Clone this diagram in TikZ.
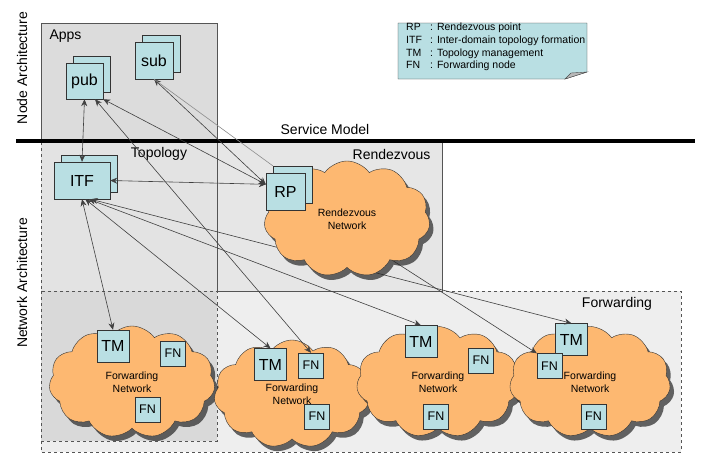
\documentclass[tikz,border=0pt]{standalone}
\usepackage{fontspec}
\setmainfont{Liberation Sans}
\usetikzlibrary{shapes.symbols,shadows,arrows.meta}
\pgfdeclarelayer{front}
\pgfsetlayers{main,front}
\definecolor{boxcyan}{HTML}{B9DFE3}
\definecolor{cloudorange}{HTML}{FDB871}
\definecolor{appsgray}{HTML}{DCDCDC}
\definecolor{topogray}{HTML}{E3E3E3}
\definecolor{rendgray}{HTML}{E6E6E6}
\definecolor{fwdgray}{HTML}{EEEEEE}
\definecolor{innergray}{HTML}{D9D9D9}
\definecolor{edgegray}{HTML}{555555}
\tikzset{
  region/.style={draw=edgegray},
  stack/.style={draw=black!80, fill=boxcyan, inner sep=0pt, font=\fontsize{16}{16}\selectfont,
    copy shadow={shadow xshift=7pt, shadow yshift=7pt, draw=black!80, fill=boxcyan}},
  tmbox/.style={draw=black!80, fill=boxcyan, minimum size=32pt, inner sep=0pt, font=\fontsize{16}{16}\selectfont},
  fnbox/.style={draw=black!80, fill=boxcyan, minimum size=25pt, inner sep=0pt, font=\fontsize{12.5}{12.5}\selectfont},
  netcloud/.style={cloud, cloud puffs=11, cloud puff arc=110, draw=black!80, fill=cloudorange, inner sep=0pt,
    align=center, font=\fontsize{10.5}{12.5}\selectfont,
    drop shadow={shadow xshift=4pt, shadow yshift=-5pt, fill=black!85, opacity=0.7}},
  link/.style={<->, draw=black!75, line width=0.6pt},
  >={Stealth[length=7pt,width=6pt]}
}
\begin{document}
\begin{tikzpicture}[x=1pt, y=-1pt, font=\fontsize{14}{14}\selectfont]
    \useasboundingbox (0,0) rectangle (725,472);

    % Layer boxes
    \draw[region, fill=appsgray] (41,23) rectangle (217,142);
    \fill[topogray] (41,142) rectangle (217,291);
    \draw[region, dashed, fill=fwdgray] (41,291) rectangle (681,452);
    \draw[region, dashed, fill=innergray] (41,291) rectangle (217,441);
    \draw[region, fill=rendgray] (217,142) rectangle (442,291);
    \draw[region, dashed] (41,142) -- (41,291);
    \draw[line width=4pt] (16,141) -- (695,141);

    \node at (325,129) {Service Model};
    \node[anchor=west] at (46,36) {Apps};
    \node at (159,154) {Topology};
    \node[anchor=east] at (434,154) {Rendezvous};
    \node at (617,304) {Forwarding};
    \node[rotate=90] at (22,68) {Node Architecture};
    \node[rotate=90] at (22,283) {Network Architecture};

    % Legend
    \draw[fill=boxcyan, draw=black!80] (398,23) -- (587,23) -- (587,72) -- (565,79) -- (398,79) -- cycle;
    \draw[fill=gray!55, draw=black!70] (565,79) -- (571,73) -- (587,72) -- cycle;
    \node[anchor=north west, inner sep=0pt, align=left, font=\fontsize{10.5}{12.6}\selectfont] (legend) at (406,23)
        {\makebox[24pt][l]{RP}: Rendezvous point\\
         \makebox[24pt][l]{ITF}: Inter-domain topology formation\\
         \makebox[24pt][l]{TM}: Topology management\\
         \makebox[24pt][l]{FN}: Forwarding node};

    % Forwarding networks
    \foreach \i/\x/\y/\w/\h in {1/132/382/166/112, 2/292/394/156/108, 3/438/382/163/111, 4/590/382/161/111}
        \node[netcloud, minimum width=\w pt, minimum height=\h pt] (fcloud\i) at (\x,\y) {Forwarding\\Network};
    \foreach \i/\x/\y in {1/113/346, 2/270.5/364.5, 3/421/341.5, 4/571.5/339.5}
        \node[tmbox] (TM\i) at (\x,\y) {TM};
    \foreach \i/\x/\y in {1a/173/353.5, 1b/147.5/409.5, 2a/311/365.5, 2b/317/416.5, 3a/481/360.5, 3b/436/416.5, 4a/549.5/366, 4b/593.5/416.5}
        \node[fnbox] (FN\i) at (\x,\y) {FN};

    % Apps and topology
    \node[stack, minimum width=37pt, minimum height=36pt] (pub) at (84.5,81) {pub};
    \node[stack, minimum width=38pt, minimum height=37pt] (sub) at (154,60.5) {sub};
    \node[stack, minimum width=56pt, minimum height=37pt] (ITF) at (82,180.5) {ITF};

    % Rendezvous network
    \begin{pgfonlayer}{front}
        \node[netcloud, minimum width=166pt, minimum height=116pt] (rvcloud) at (347,219) {Rendezvous\\Network};
        \node[stack, minimum width=39pt, minimum height=37pt] (RP) at (285.5,191.5) {RP};
    \end{pgfonlayer}

    % Connections
    \draw[link] (pub.south) -- (ITF.north);
    \draw[link] (ITF.east) -- (RP.160);
    \draw[link] (pub.-60) -- (FN2a.north);
    \draw[link] (pub.south east) -- (RP.160);
    \draw[link] (sub.south) -- (RP.160);
    \draw[draw=black!45, line width=0.6pt] (sub.south) -- ([xshift=7pt,yshift=7pt]RP.north west);
    \draw[link] (ITF.south) -- (TM1.north);
    \draw[link] (ITF.-80) -- (TM2.north);
    \draw[link] (ITF.-70) -- (TM3.north);
    \draw[link] (ITF.-65) -- (TM4.north);
    \draw[->, draw=black!75, line width=0.6pt] (RP.center) -- (FN4a.north west);
\end{tikzpicture}
\end{document}
